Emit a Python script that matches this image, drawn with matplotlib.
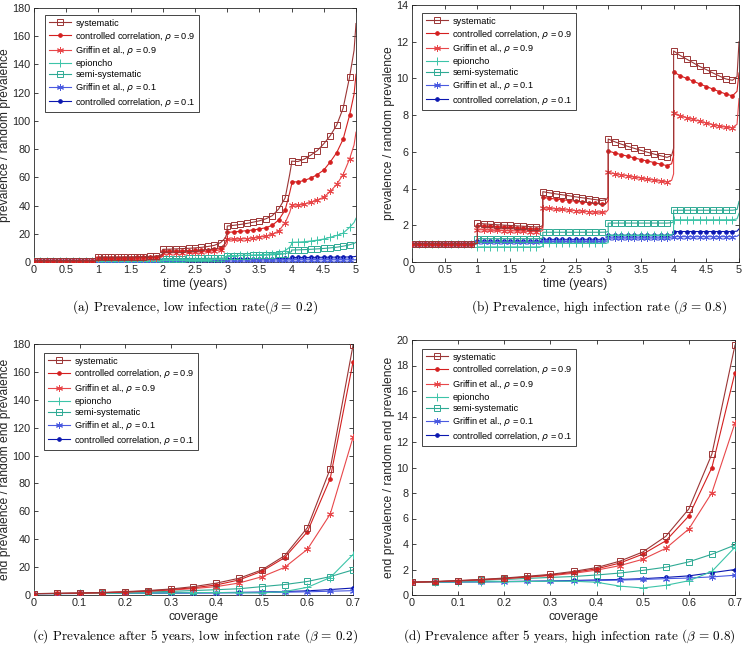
import numpy as np
import matplotlib
matplotlib.use("Agg")
import matplotlib.pyplot as plt

plt.rcParams['font.family'] = ['Liberation Sans', 'DejaVu Sans']
plt.rcParams['mathtext.fontset'] = 'dejavusans'

# ---- data -------------------------------------------------------------
# time panels: per year 10 marker values (t = k.0 .. k.9), then the value at
# k+0.97 and the value just before the jump at k+1
labels = ['systematic', r'controlled correlation, $\rho$ = 0.9', r'Griffin et al., $\rho$ = 0.9',
          'epioncho', 'semi-systematic', r'Griffin et al., $\rho$ = 0.1', r'controlled correlation, $\rho$ = 0.1']

a_sys = [1, 1, 1, 1, 1, 1, 1, 1, 1, 1, 1.05, 1.3,
         3.5, 3.5, 3.5, 3.5, 3.6, 3.6, 3.7, 3.8, 3.9, 4.2, 4.8, 6.0,
         9.0, 9.1, 9.3, 9.5, 9.7, 10.0, 10.4, 11.0, 11.8, 13.8, 17.0, 21.0,
         25.5, 26.0, 26.6, 27.3, 28.2, 29.2, 30.6, 32.8, 37.6, 45.4, 62.0, 70.0,
         71.5, 71.2, 73.0, 75.8, 79.0, 83.8, 89.5, 97.0, 109.0, 131.0, 150.0, 169.0]
a_cc9 = [1, 1, 1, 1, 1, 1, 1, 1, 1, 1, 1.05, 1.2,
         3.0, 3.0, 3.0, 3.0, 3.1, 3.1, 3.2, 3.2, 3.3, 3.5, 4.0, 5.0,
         7.6, 7.7, 7.8, 7.9, 8.0, 8.2, 8.4, 8.8, 9.2, 10.2, 13.0, 16.0,
         21.0, 21.3, 21.7, 22.2, 22.7, 23.4, 24.3, 26.0, 29.8, 36.9, 49.0, 55.0,
         56.9, 56.7, 57.9, 59.5, 62.0, 65.2, 70.9, 77.5, 87.0, 104.0, 119.0, 133.0]
a_gr9 = [1, 1, 1, 1, 1, 1, 1, 1, 1, 1, 1.05, 1.2,
         2.5, 2.5, 2.5, 2.5, 2.6, 2.6, 2.6, 2.7, 2.8, 2.9, 3.3, 4.0,
         6.4, 6.5, 6.6, 6.7, 6.8, 7.0, 7.2, 7.5, 8.0, 8.6, 11.0, 13.0,
         16.0, 16.1, 16.3, 16.6, 17.0, 17.6, 18.3, 19.7, 22.0, 27.8, 35.0, 39.5,
         40.5, 40.3, 41.0, 42.5, 44.0, 46.0, 50.0, 55.0, 62.0, 73.0, 83.0, 92.0]
a_epi = [1, 1, 1, 1, 1, 1, 1, 1, 1, 1, 1, 1,
         0.8, 0.8, 0.8, 0.8, 0.8, 0.8, 0.8, 0.8, 0.8, 0.8, 0.8, 0.8,
         1.6, 1.6, 1.6, 1.6, 1.6, 1.7, 1.7, 1.7, 1.8, 1.9, 2.1, 2.3,
         4.6, 4.6, 4.7, 4.8, 4.9, 5.1, 5.4, 5.9, 6.7, 8.0, 10.5, 12.5,
         14.0, 14.1, 14.4, 14.9, 15.5, 16.3, 17.5, 18.8, 20.5, 24.5, 28.0, 31.0]
a_semi = [1, 1, 1, 1, 1, 1, 1, 1, 1, 1, 1, 1,
          1.3, 1.3, 1.3, 1.3, 1.3, 1.3, 1.3, 1.3, 1.3, 1.3, 1.3, 1.35,
          2.4, 2.4, 2.4, 2.4, 2.5, 2.5, 2.5, 2.6, 2.6, 2.7, 2.9, 3.0,
          4.5, 4.5, 4.6, 4.6, 4.7, 4.8, 4.9, 5.1, 5.4, 5.9, 6.8, 7.4,
          8.5, 8.6, 8.8, 9.0, 9.3, 9.6, 10.0, 10.5, 11.2, 12.2, 13.2, 14.0]
a_gr1 = [1, 1, 1, 1, 1, 1, 1, 1, 1, 1, 1, 1,
         1.05, 1.05, 1.05, 1.05, 1.05, 1.05, 1.05, 1.05, 1.05, 1.05, 1.05, 1.05,
         1.2, 1.2, 1.2, 1.2, 1.2, 1.2, 1.2, 1.2, 1.2, 1.2, 1.2, 1.2,
         1.35, 1.35, 1.35, 1.35, 1.35, 1.35, 1.35, 1.35, 1.35, 1.35, 1.35, 1.4,
         1.5, 1.5, 1.5, 1.5, 1.5, 1.5, 1.5, 1.5, 1.5, 1.5, 1.55, 1.6]
a_cc1 = [1, 1, 1, 1, 1, 1, 1, 1, 1, 1, 1, 1,
         1.3, 1.3, 1.3, 1.3, 1.3, 1.3, 1.3, 1.3, 1.3, 1.3, 1.3, 1.35,
         1.7, 1.7, 1.7, 1.7, 1.7, 1.7, 1.7, 1.7, 1.7, 1.75, 1.8, 1.85,
         2.3, 2.3, 2.3, 2.3, 2.3, 2.35, 2.35, 2.4, 2.45, 2.5, 2.6, 2.8,
         3.2, 3.2, 3.2, 3.25, 3.3, 3.35, 3.4, 3.45, 3.5, 3.6, 3.8, 4.0]

b_sys = [1, 1, 1, 1, 1, 1, 1, 1, 1, 1, 1.0, 1.02,
         2.10, 2.08, 2.05, 2.03, 2.01, 1.99, 1.97, 1.95, 1.93, 1.91, 1.93, 2.0,
         3.83, 3.77, 3.71, 3.66, 3.61, 3.55, 3.50, 3.45, 3.40, 3.35, 3.40, 3.55,
         6.70, 6.55, 6.42, 6.30, 6.19, 6.08, 5.98, 5.88, 5.79, 5.70, 5.80, 6.2,
         11.50, 11.25, 11.05, 10.85, 10.65, 10.48, 10.30, 10.13, 9.97, 9.90, 10.1, 12.0]
b_cc9 = [1, 1, 1, 1, 1, 1, 1, 1, 1, 1, 1.0, 1.02,
         1.98, 1.96, 1.94, 1.92, 1.90, 1.88, 1.86, 1.84, 1.82, 1.80, 1.82, 1.9,
         3.52, 3.47, 3.43, 3.39, 3.35, 3.31, 3.27, 3.23, 3.20, 3.16, 3.20, 3.35,
         6.05, 5.94, 5.85, 5.76, 5.67, 5.58, 5.50, 5.42, 5.33, 5.25, 5.35, 5.8,
         10.35, 10.15, 10.00, 9.85, 9.70, 9.56, 9.42, 9.28, 9.15, 9.05, 9.3, 10.3]
b_gr9 = [1, 1, 1, 1, 1, 1, 1, 1, 1, 1, 1.0, 1.02,
         1.76, 1.75, 1.73, 1.72, 1.71, 1.70, 1.69, 1.68, 1.66, 1.65, 1.67, 1.72,
         2.96, 2.92, 2.89, 2.86, 2.83, 2.80, 2.77, 2.74, 2.72, 2.70, 2.73, 2.85,
         4.88, 4.81, 4.75, 4.69, 4.63, 4.57, 4.52, 4.46, 4.41, 4.36, 4.45, 4.8,
         8.13, 7.98, 7.87, 7.77, 7.67, 7.58, 7.49, 7.41, 7.34, 7.32, 7.5, 8.9]
b_epi = [1, 1, 1, 1, 1, 1, 1, 1, 1, 1, 1, 1,
         0.82, 0.82, 0.82, 0.82, 0.82, 0.82, 0.82, 0.82, 0.82, 0.82, 0.83, 0.85,
         1.02, 1.02, 1.02, 1.02, 1.02, 1.02, 1.02, 1.02, 1.02, 1.02, 1.03, 1.05,
         1.47, 1.47, 1.47, 1.47, 1.47, 1.47, 1.47, 1.47, 1.47, 1.47, 1.50, 1.55,
         2.30, 2.30, 2.30, 2.30, 2.30, 2.30, 2.30, 2.30, 2.30, 2.30, 2.35, 2.65]
b_semi = [1, 1, 1, 1, 1, 1, 1, 1, 1, 1, 1, 1,
          1.27, 1.27, 1.27, 1.27, 1.27, 1.27, 1.27, 1.27, 1.27, 1.27, 1.28, 1.30,
          1.62, 1.62, 1.62, 1.62, 1.62, 1.62, 1.62, 1.62, 1.62, 1.62, 1.63, 1.66,
          2.12, 2.12, 2.12, 2.12, 2.12, 2.12, 2.12, 2.12, 2.12, 2.12, 2.14, 2.2,
          2.82, 2.82, 2.82, 2.82, 2.82, 2.82, 2.82, 2.82, 2.82, 2.82, 2.86, 3.3]
b_gr1 = [1, 1, 1, 1, 1, 1, 1, 1, 1, 1, 1, 1,
         1.07, 1.07, 1.07, 1.07, 1.07, 1.07, 1.07, 1.07, 1.07, 1.07, 1.07, 1.08,
         1.12, 1.12, 1.12, 1.12, 1.12, 1.12, 1.12, 1.12, 1.12, 1.12, 1.13, 1.15,
         1.30, 1.30, 1.30, 1.30, 1.30, 1.30, 1.30, 1.30, 1.30, 1.30, 1.31, 1.33,
         1.38, 1.38, 1.38, 1.38, 1.38, 1.38, 1.38, 1.38, 1.38, 1.38, 1.40, 1.48]
b_cc1 = [1, 1, 1, 1, 1, 1, 1, 1, 1, 1, 1, 1,
         1.12, 1.12, 1.12, 1.12, 1.12, 1.12, 1.12, 1.12, 1.12, 1.12, 1.12, 1.14,
         1.23, 1.23, 1.23, 1.23, 1.23, 1.23, 1.23, 1.23, 1.23, 1.23, 1.24, 1.27,
         1.45, 1.45, 1.45, 1.45, 1.45, 1.45, 1.45, 1.45, 1.45, 1.45, 1.46, 1.5,
         1.66, 1.66, 1.66, 1.66, 1.66, 1.66, 1.66, 1.66, 1.66, 1.66, 1.68, 1.8]

# coverage panels
coverage = [0, 0.05, 0.1, 0.15, 0.2, 0.25, 0.3, 0.35, 0.4, 0.45, 0.5, 0.55, 0.6, 0.65, 0.7]
c_sys = [1, 1.15, 1.4, 1.8, 2.4, 3.2, 4.3, 6.0, 8.5, 12.0, 18.0, 28.2, 48.3, 90.5, 179.0]
c_cc9 = [1, 1.12, 1.35, 1.7, 2.2, 2.9, 3.9, 5.2, 7.2, 10.8, 17.0, 26.8, 45.4, 83.5, 167.0]
c_gr9 = [1, 1.1, 1.3, 1.6, 2.1, 2.7, 3.5, 4.6, 6.0, 8.6, 13.1, 19.8, 32.8, 58.0, 113.0]
c_epi = [1, 1.05, 1.1, 1.2, 1.3, 1.4, 1.5, 1.7, 1.8, 1.6, 1.5, 2.5, 5.5, 12.5, 29.0]
c_semi = [1, 1.1, 1.3, 1.5, 1.8, 2.2, 2.6, 3.2, 3.8, 4.5, 6.0, 7.5, 9.7, 13.2, 18.0]
c_gr1 = [1, 1.05, 1.1, 1.15, 1.2, 1.25, 1.3, 1.4, 1.5, 1.6, 1.8, 2.0, 2.3, 2.7, 3.1]
c_cc1 = [1, 1.05, 1.1, 1.2, 1.3, 1.4, 1.5, 1.6, 1.7, 1.9, 2.1, 2.5, 3.0, 3.9, 5.0]

d_sys = [1.0, 1.06, 1.13, 1.22, 1.33, 1.47, 1.62, 1.85, 2.15, 2.65, 3.37, 4.6, 6.75, 11.06, 19.6]
d_cc9 = [1.0, 1.05, 1.12, 1.2, 1.3, 1.42, 1.57, 1.78, 2.05, 2.5, 3.2, 4.25, 6.2, 10.0, 17.45]
d_gr9 = [1.0, 1.04, 1.1, 1.18, 1.28, 1.4, 1.52, 1.7, 1.95, 2.3, 2.8, 3.66, 5.18, 8.03, 13.5]
d_epi = [1.0, 1.01, 1.02, 1.04, 1.05, 1.06, 1.08, 1.08, 1.0, 0.7, 0.55, 0.76, 1.12, 1.85, 3.75]
d_semi = [1.0, 1.04, 1.1, 1.15, 1.22, 1.3, 1.38, 1.45, 1.57, 1.72, 1.93, 2.18, 2.6, 3.2, 3.92]
d_gr1 = [1.0, 1.01, 1.02, 1.03, 1.04, 1.06, 1.08, 1.1, 1.13, 1.17, 1.22, 1.28, 1.33, 1.42, 1.55]
d_cc1 = [1.0, 1.01, 1.03, 1.04, 1.06, 1.08, 1.1, 1.14, 1.18, 1.22, 1.28, 1.38, 1.5, 1.75, 2.0]

captions = [r'(a) Prevalence, low infection rate($\beta \,=\, 0.2$)',
            r'(b) Prevalence, high infection rate ($\beta \,=\, 0.8$)',
            r'(c) Prevalence after 5 years, low infection rate ($\beta \,=\, 0.2$)',
            r'(d) Prevalence after 5 years, high infection rate ($\beta \,=\, 0.8$)']

# ---- styles -----------------------------------------------------------
colors = ['#9B3535', '#D41F1F', '#E8474A', '#3CC4A8', '#2EAA94', '#4A5AE0', '#0B17B0']
ast = (6, 2, 0)
markers = ['s', 'o', ast, '+', 's', ast, 'o']
msizes = [5, 2.6, 5, 5.5, 5, 5, 2.6]
filled = [False, True, True, True, False, True, True]
axcol = '#262626'

# x positions of the time-series line: per year 10 marker times, k+0.97, k+1
t_line = []
for k in range(5):
    t_line += [k + i / 10 for i in range(10)] + [k + 0.97, k + 1.0]
mark_idx = [k * 12 + i for k in range(5) for i in range(10)]

fig = plt.figure(figsize=(7.42, 6.51), dpi=100)
W, H = 742, 651


def add_ax(left, top, right, bottom):
    return fig.add_axes([left / W, 1 - bottom / H, (right - left) / W, (bottom - top) / H])


def style_ax(ax):
    ax.tick_params(direction='in', top=True, right=True, length=3, width=0.6,
                   labelsize=7.8, colors=axcol, pad=2.5)
    for s in ax.spines.values():
        s.set_linewidth(0.6)
        s.set_color(axcol)


def draw(ax, x, series, every):
    # red curves sit on top, as in the reference
    for i, y in enumerate(series):
        ax.plot(x, y, color=colors[i], lw=0.8, marker=markers[i], ms=msizes[i],
                mfc=colors[i] if filled[i] else 'none', mec=colors[i], mew=0.7,
                markevery=every, label=labels[i], zorder=10 - i)


def legend(ax, ax_w, ax_h, dx, dy):
    leg = ax.legend(loc='upper left', bbox_to_anchor=(dx / ax_w, 1 - dy / ax_h), borderaxespad=0,
                    fontsize=6.6, fancybox=False, edgecolor=axcol, framealpha=1,
                    handlelength=2.4, labelspacing=0.2, borderpad=0.4, handletextpad=0.5)
    leg.get_frame().set_linewidth(0.6)
    leg.set_zorder(20)


axa = add_ax(34, 8, 356, 262)
axb = add_ax(412, 5, 739, 262)
axc = add_ax(34, 344, 353, 595)
axd = add_ax(412, 340, 735, 595)

draw(axa, t_line, [a_sys, a_cc9, a_gr9, a_epi, a_semi, a_gr1, a_cc1], mark_idx)
draw(axb, t_line, [b_sys, b_cc9, b_gr9, b_epi, b_semi, b_gr1, b_cc1], mark_idx)
draw(axc, coverage, [c_sys, c_cc9, c_gr9, c_epi, c_semi, c_gr1, c_cc1], None)
draw(axd, coverage, [d_sys, d_cc9, d_gr9, d_epi, d_semi, d_gr1, d_cc1], None)

for ax, ymax, ystep in [(axa, 180, 20), (axb, 14, 2)]:
    ax.set_xlim(0, 5)
    ax.set_ylim(0, ymax)
    ax.set_xticks(np.arange(0, 5.01, 0.5))
    ax.set_xticklabels(['0', '0.5', '1', '1.5', '2', '2.5', '3', '3.5', '4', '4.5', '5'])
    ax.set_yticks(np.arange(0, ymax + 0.01, ystep))
    ax.set_xlabel('time (years)', fontsize=8.7, color=axcol, labelpad=2)
    ax.set_ylabel('prevalence / random prevalence', fontsize=8.7, color=axcol, labelpad=1)
    style_ax(ax)

for ax, ymax, ystep in [(axc, 180, 20), (axd, 20, 2)]:
    ax.set_xlim(0, 0.7)
    ax.set_ylim(0, ymax)
    ax.set_xticks(np.arange(0, 0.71, 0.1))
    ax.set_xticklabels(['0', '0.1', '0.2', '0.3', '0.4', '0.5', '0.6', '0.7'])
    ax.set_yticks(np.arange(0, ymax + 0.01, ystep))
    ax.set_xlabel('coverage', fontsize=8.7, color=axcol, labelpad=2)
    ax.set_ylabel('end prevalence / random end prevalence', fontsize=8.7, color=axcol, labelpad=1)
    style_ax(ax)

# keep the left y labels inside the figure, as in the reference
for ax in (axa, axc):
    ax.yaxis.set_label_coords(-23 / (ax.get_position().width * W), 0.5)

legend(axa, 322, 254, 11, 7)
legend(axb, 327, 257, 10, 8)
legend(axc, 319, 251, 10, 9)
legend(axd, 323, 255, 10, 9)

cap_kw = dict(fontsize=9.5, family='cmr10', ha='center', va='center', math_fontfamily='cm')
fig.text(195 / W, 1 - 307 / H, captions[0], **cap_kw)
fig.text(599 / W, 1 - 307 / H, captions[1], **cap_kw)
fig.text(195 / W, 1 - 636 / H, captions[2], **cap_kw)
fig.text(569 / W, 1 - 636 / H, captions[3], **cap_kw)

fig.savefig('out.png', dpi=100)
